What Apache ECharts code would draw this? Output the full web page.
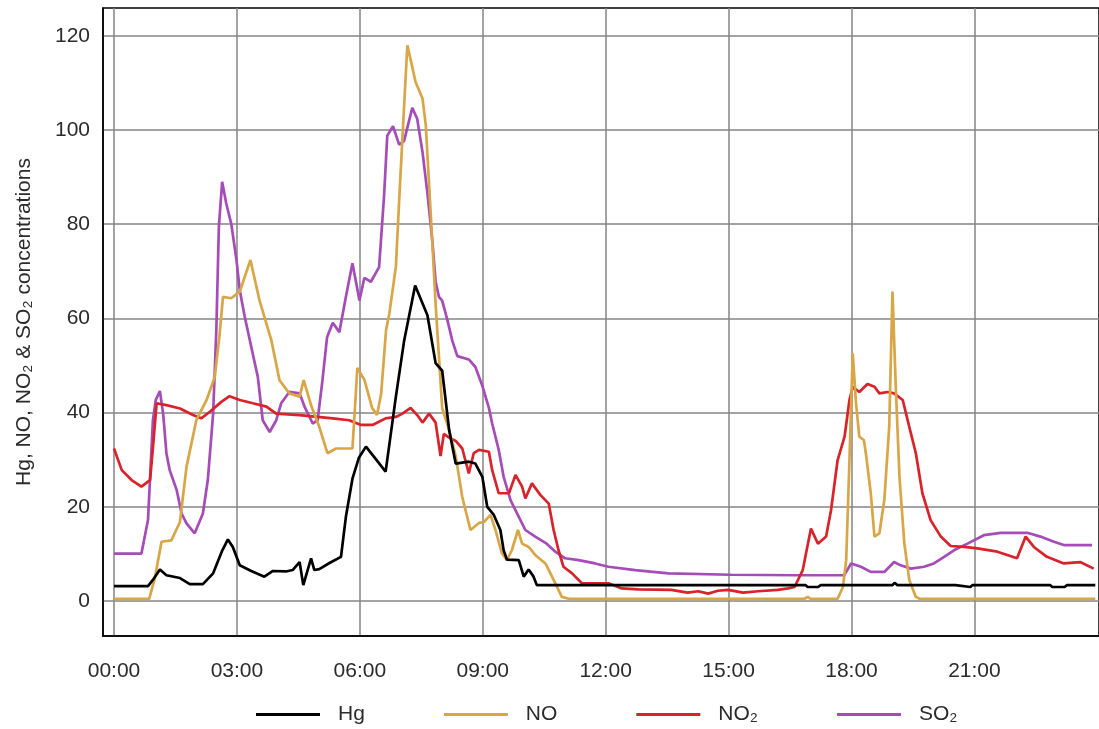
<!DOCTYPE html>
<html>
<head>
<meta charset="utf-8">
<title>Hg, NO, NO₂ & SO₂ concentrations</title>
<script src="https://cdn.jsdelivr.net/npm/echarts@6/dist/echarts.min.js"></script>
<style>
  html, body { margin: 0; padding: 0; background: #ffffff; }
  #chart { width: 1099px; height: 729px; }
</style>
</head>
<body>
<div id="chart"></div>
<script>
// Time of day in hours, concentration values
const hgData = [
  [0.00,3.2],[0.83,3.2],[0.95,4.5],[1.12,6.7],[1.28,5.5],[1.61,4.9],[1.85,3.6],[2.17,3.6],
  [2.42,5.9],[2.63,10.5],[2.78,13.1],[2.90,11.5],[3.07,7.6],[3.35,6.4],[3.67,5.2],[3.88,6.4],
  [4.20,6.3],[4.36,6.6],[4.53,8.3],[4.62,3.4],[4.81,9.1],[4.89,6.6],[5.01,6.8],[5.26,8.1],
  [5.54,9.4],[5.66,17.9],[5.82,26.0],[5.98,30.5],[6.15,32.8],[6.63,27.5],[6.88,43.4],[7.08,55.2],
  [7.35,67.0],[7.65,60.7],[7.85,50.5],[8.01,48.9],[8.18,36.3],[8.34,29.2],[8.66,29.6],[8.82,29.2],
  [8.99,26.4],[9.11,20.0],[9.27,18.3],[9.43,15.1],[9.51,10.8],[9.59,8.8],[9.88,8.7],[10.00,5.2],
  [10.12,6.7],[10.24,5.2],[10.32,3.4],[16.88,3.4],[16.93,3.0],[17.18,3.0],[17.25,3.4],[19.00,3.4],
  [19.05,3.9],[19.12,3.4],[20.54,3.4],[20.58,3.0],[20.90,3.0],[20.95,3.4],[22.85,3.4],[22.90,3.0],
  [23.20,3.0],[23.26,3.4],[23.95,3.4]
];

const noData = [
  [0.00,0.5],[0.86,0.5],[1.00,5.0],[1.16,12.6],[1.40,12.9],[1.61,16.8],[1.77,28.5],[2.01,38.4],
  [2.26,42.7],[2.46,47.6],[2.58,56.8],[2.66,64.6],[2.86,64.3],[3.07,65.7],[3.33,72.4],[3.55,63.9],
  [3.84,55.4],[4.04,46.9],[4.28,44.1],[4.53,43.4],[4.63,46.9],[4.81,41.6],[5.01,37.0],[5.21,31.4],
  [5.42,32.4],[5.82,32.4],[5.94,49.5],[6.11,47.0],[6.30,41.0],[6.42,39.5],[6.52,44.0],[6.64,57.5],
  [6.72,61.0],[6.88,71.0],[6.96,85.0],[7.08,105.0],[7.16,118.0],[7.28,113.4],[7.36,110.2],[7.53,106.7],
  [7.61,101.0],[7.69,88.5],[7.77,76.0],[7.85,63.0],[7.93,52.0],[8.01,41.0],[8.18,36.3],[8.34,30.8],
  [8.50,22.1],[8.70,15.1],[8.91,16.6],[9.03,16.8],[9.19,18.3],[9.31,15.1],[9.47,10.1],[9.59,8.7],
  [9.71,10.8],[9.86,15.1],[9.96,12.2],[10.12,11.5],[10.28,9.8],[10.53,8.0],[10.73,4.5],[10.93,0.9],
  [11.10,0.5],[16.85,0.5],[16.93,0.9],[17.00,0.5],[17.66,0.5],[17.79,3.0],[17.87,8.7],[17.95,30.0],
  [18.03,52.6],[18.11,42.0],[18.19,34.9],[18.30,34.2],[18.35,31.4],[18.47,22.9],[18.56,13.7],[18.68,14.4],
  [18.80,21.4],[18.92,37.0],[19.00,65.7],[19.08,45.5],[19.17,26.4],[19.29,12.2],[19.41,4.5],[19.57,0.9],
  [19.66,0.5],[23.95,0.5]
];

const no2Data = [
  [0.00,32.4],[0.19,27.8],[0.43,25.7],[0.67,24.3],[0.88,25.7],[0.96,33.5],[1.04,42.0],[1.28,41.6],
  [1.61,40.9],[1.93,39.5],[2.13,38.8],[2.34,40.2],[2.62,42.3],[2.82,43.5],[3.07,42.7],[3.39,42.0],
  [3.72,41.3],[3.96,39.8],[4.53,39.5],[5.34,38.8],[5.74,38.4],[6.03,37.4],[6.31,37.4],[6.63,38.8],
  [6.88,39.1],[7.04,39.8],[7.24,41.0],[7.40,39.5],[7.53,37.9],[7.69,39.8],[7.85,37.9],[7.97,30.8],
  [8.05,35.5],[8.18,34.7],[8.34,34.0],[8.50,32.4],[8.66,27.1],[8.78,31.4],[8.91,32.1],[9.15,31.7],
  [9.23,27.8],[9.39,22.9],[9.64,22.9],[9.80,26.8],[9.96,24.3],[10.04,21.8],[10.20,25.0],[10.41,22.5],
  [10.61,20.7],[10.73,15.1],[10.85,10.8],[10.97,7.3],[11.18,5.9],[11.42,3.8],[12.07,3.8],[12.39,2.7],
  [12.80,2.5],[13.60,2.4],[14.00,1.8],[14.26,2.1],[14.50,1.6],[14.74,2.2],[14.99,2.4],[15.35,1.8],
  [15.72,2.1],[16.20,2.4],[16.45,2.7],[16.61,3.0],[16.81,6.6],[17.01,15.4],[17.18,12.2],[17.38,13.7],
  [17.50,19.3],[17.66,29.9],[17.83,34.9],[17.95,42.7],[18.03,45.5],[18.19,44.4],[18.39,46.1],[18.56,45.5],
  [18.68,44.1],[18.88,44.4],[19.04,44.1],[19.25,42.7],[19.41,37.0],[19.57,31.4],[19.73,22.9],[19.93,17.2],
  [20.18,13.7],[20.42,11.7],[20.75,11.5],[21.07,11.2],[21.56,10.5],[22.04,9.1],[22.25,13.7],[22.45,11.5],
  [22.77,9.4],[23.18,8.0],[23.58,8.3],[23.91,6.9]
];

const so2Data = [
  [0.00,10.1],[0.67,10.1],[0.83,17.2],[0.95,38.4],[1.02,42.7],[1.12,44.6],[1.20,39.8],[1.28,31.4],
  [1.36,27.8],[1.53,23.6],[1.65,18.6],[1.77,16.5],[1.97,14.4],[2.17,18.6],[2.29,25.7],[2.42,39.8],
  [2.50,58.2],[2.56,79.5],[2.64,89.0],[2.74,84.4],[2.86,80.2],[2.99,72.4],[3.07,66.0],[3.19,60.4],
  [3.35,54.0],[3.51,47.6],[3.63,38.4],[3.80,35.9],[3.96,38.4],[4.08,42.0],[4.28,44.4],[4.53,44.1],
  [4.65,41.3],[4.85,37.7],[4.97,38.4],[5.09,47.0],[5.20,56.0],[5.34,59.1],[5.50,57.1],[5.66,64.6],
  [5.82,71.7],[5.94,66.2],[5.99,63.8],[6.11,68.6],[6.27,67.8],[6.47,70.9],[6.59,85.8],[6.67,98.8],
  [6.81,100.8],[6.96,96.9],[7.08,97.7],[7.28,104.7],[7.40,102.4],[7.53,95.3],[7.65,86.6],[7.77,76.4],
  [7.85,67.8],[7.93,64.6],[8.01,63.8],[8.13,59.9],[8.26,55.2],[8.38,52.0],[8.66,51.3],[8.82,49.7],
  [8.99,45.7],[9.15,41.0],[9.23,37.7],[9.39,32.1],[9.51,26.4],[9.68,21.4],[9.88,17.9],[10.04,15.1],
  [10.28,13.7],[10.56,12.2],[10.77,10.5],[11.01,9.1],[11.34,8.7],[11.74,8.0],[12.07,7.3],[12.72,6.6],
  [13.53,5.9],[15.06,5.6],[16.69,5.5],[17.82,5.5],[17.99,8.0],[18.23,7.3],[18.47,6.2],[18.80,6.2],
  [19.04,8.3],[19.20,7.6],[19.45,6.9],[19.77,7.3],[20.01,8.0],[20.26,9.4],[20.50,10.8],[20.83,12.2],
  [21.23,14.0],[21.64,14.5],[22.29,14.5],[22.61,13.7],[22.94,12.6],[23.18,11.9],[23.87,11.9]
];

const seriesNames = ['Hg', 'NO', 'NO₂', 'SO₂'];
const seriesColors = ['#000000', '#d8a646', '#d8232a', '#a54cb8'];
const hourTicks = [0, 3, 6, 9, 12, 15, 18, 21];
const valueTicks = [0, 20, 40, 60, 80, 100, 120];
const yTitle = 'Hg, NO, NO₂ & SO₂ concentrations';

const FONT = "'Liberation Sans', Arial, sans-serif";
const TEXT = '#2b2b2b';
const GRID = '#858585';

const chart = echarts.init(document.getElementById('chart'), null, { renderer: 'canvas' });

const allData = [hgData, noData, no2Data, so2Data];

chart.setOption({
  animation: false,
  backgroundColor: '#ffffff',
  textStyle: { fontFamily: FONT },
  grid: {
    left: 103, top: 8, right: -3, bottom: 93,
    show: true, borderColor: '#000000', borderWidth: 1.5
  },
  legend: {
    left: 251, top: 699,
    icon: 'rect',
    itemWidth: 64, itemHeight: 3,
    itemGap: 79,
    data: seriesNames,
    textStyle: { fontFamily: FONT, fontSize: 21, color: TEXT, padding: [0, 0, 0, 13] }
  },
  xAxis: {
    type: 'value',
    min: -0.268, max: 24.04,
    axisLine: { show: true, onZero: false, lineStyle: { color: '#000000', width: 1.5 } },
    axisTick: { show: false, customValues: hourTicks },
    axisLabel: {
      customValues: hourTicks,
      fontFamily: FONT, fontSize: 21, color: TEXT, margin: 25,
      formatter: v => String(v).padStart(2, '0') + ':00'
    },
    splitLine: { show: true, lineStyle: { color: GRID, width: 1.5 } }
  },
  yAxis: {
    type: 'value',
    min: -7.4, max: 125.9,
    name: yTitle,
    nameLocation: 'middle',
    nameGap: 68,
    nameTextStyle: { fontFamily: FONT, fontSize: 21, color: TEXT },
    axisLine: { show: true, onZero: false, lineStyle: { color: '#000000', width: 1.5 } },
    axisTick: { show: false, customValues: valueTicks },
    axisLabel: {
      customValues: valueTicks,
      fontFamily: FONT, fontSize: 21, color: TEXT, margin: 13
    },
    splitLine: { show: true, lineStyle: { color: GRID, width: 1.5 } }
  },
  series: seriesNames.map((name, i) => ({
    name: name,
    type: 'line',
    data: allData[i],
    showSymbol: false,
    symbol: 'none',
    color: seriesColors[i],
    lineStyle: { color: seriesColors[i], width: 2.7 },
    z: 10 - i
  }))
});
</script>
</body>
</html>
